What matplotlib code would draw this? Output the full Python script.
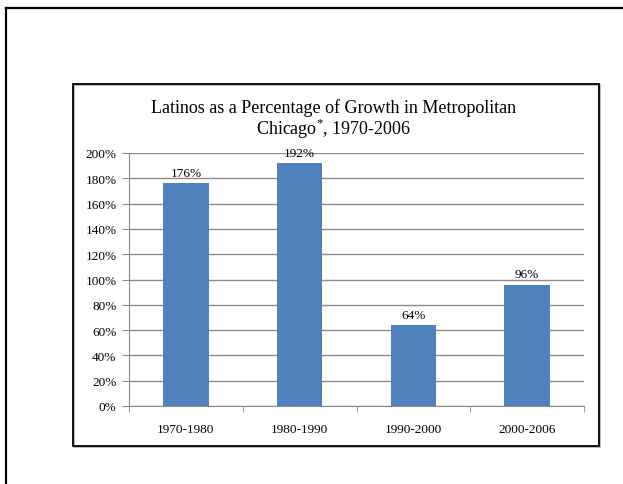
import matplotlib
matplotlib.use("Agg")
import matplotlib.pyplot as plt
from matplotlib.lines import Line2D
from matplotlib.patches import Rectangle
from matplotlib.ticker import FixedLocator, NullFormatter

plt.rcParams['font.family'] = ['Liberation Serif', 'DejaVu Serif']
plt.rcParams['mathtext.fontset'] = 'custom'
plt.rcParams['mathtext.rm'] = 'Liberation Serif'

periods = ['1970-1980', '1980-1990', '1990-2000', '2000-2006']
share = [176, 192, 64, 96]
yticks = [0, 20, 40, 60, 80, 100, 120, 140, 160, 180, 200]

W, H = 623, 485
fig = plt.figure(figsize=(W / 100, H / 100), dpi=100)

# slide frame (top and left edges)
fig.add_artist(Line2D([6 / W, 1], [1 - 9 / H, 1 - 9 / H], color='black', lw=1.6))
fig.add_artist(Line2D([6 / W, 6 / W], [0, 1 - 9 / H], color='black', lw=1.6))

# chart box with light shadow
fig.add_artist(Rectangle((74 / W, 37 / H), 526 / W, 362 / H, fill=False,
                         edgecolor='#b0b0b0', lw=1.2))
fig.add_artist(Rectangle((73 / W, 38 / H), 526 / W, 362 / H, fill=False,
                         edgecolor='black', lw=1.3))

ax = fig.add_axes([129 / W, 78 / H, 455 / W, 253 / H])
x = range(len(periods))
bars = ax.bar(x, share, width=0.4, color='#4f81bd', zorder=3)
ax.bar_label(bars, labels=[f'{v}%' for v in share], padding=3, fontsize=9.5)

ax.set_xlim(-0.5, len(periods) - 0.5)
ax.set_ylim(0, 200)
ax.set_yticks(yticks)
ax.set_yticklabels([f'{v}%' for v in yticks], fontsize=9.5)
ax.yaxis.grid(True, color='#8c8c8c', lw=1.0, zorder=0)

ax.set_xticks(list(x))
ax.set_xticklabels(periods, fontsize=9.5)
ax.tick_params(axis='x', which='major', length=0, pad=12)
ax.xaxis.set_minor_locator(FixedLocator([-0.5, 0.5, 1.5, 2.5, 3.5]))
ax.xaxis.set_minor_formatter(NullFormatter())
ax.tick_params(axis='x', which='minor', length=4, color='#8c8c8c', direction='out')
ax.tick_params(axis='y', length=5, color='#8c8c8c', pad=4)

for s in ['top', 'right']:
    ax.spines[s].set_visible(False)
for s in ['left', 'bottom']:
    ax.spines[s].set_color('#8c8c8c')

fig.text(334 / W, 1 - 120 / H,
         'Latinos as a Percentage of Growth in Metropolitan\nChicago$^{*}$, 1970-2006',
         ha='center', va='center', fontsize=13, linespacing=1.0)

fig.savefig('out.png', dpi=100)
